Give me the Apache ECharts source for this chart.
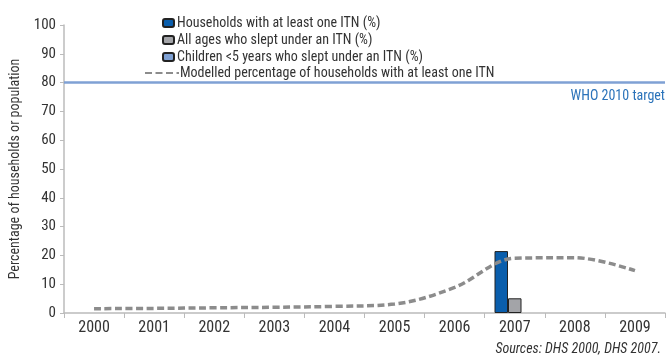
<!doctype html>
<html lang="en">
  <head>
    <meta charset="UTF-8" />
    <title>ITN coverage</title>
    <style>
      html,
      body {
        width: 100%;
        height: 100%;
        margin: 0;
        padding: 0;
        background: #fff;
      }
      #Echart {
        width: 667px;
        height: 360px;
      }
    </style>
  </head>
  <body>
    <div id="Echart"></div>
    <script src="https://cdn.jsdelivr.net/npm/echarts@6/dist/echarts.min.js"></script>
    <script type="text/javascript">
      const years = ['2000', '2001', '2002', '2003', '2004', '2005', '2006', '2007', '2008', '2009']
      const householdsItn = [null, null, null, null, null, null, null, 21.5, null, null]
      const allAgesItn = [null, null, null, null, null, null, null, 5.1, null, null]
      const childrenItn = [null, null, null, null, null, null, null, null, null, null]
      const modelled = [1.5, 1.6, 1.8, 2, 2.3, 3.1, 8.9, 19, 19.2, 14.7]
      const targetValue = 80

      const font = "'Roboto Condensed', 'DejaVu Sans Condensed', sans-serif"
      const names = [
        'Households with at least one ITN (%)',
        'All ages who slept under an ITN (%)',
        'Children <5 years who slept under an ITN (%)',
        'Modelled percentage of households with at least one ITN',
      ]

      const chart = echarts.init(document.getElementById('Echart'))
      const option = {
        animation: false,
        textStyle: { fontFamily: font },
        legend: [
          {
            orient: 'vertical',
            left: 162,
            top: 16,
            itemWidth: 11,
            itemHeight: 8,
            itemGap: 3,
            padding: 0,
            data: names.slice(0, 3),
            textStyle: { fontFamily: font, fontSize: 14, color: '#333', padding: [0, 0, 0, -2] },
          },
          {
            left: 144,
            top: 66,
            padding: 0,
            itemWidth: 34,
            itemHeight: 8,
            itemStyle: { opacity: 0 },
            data: [names[3]],
            textStyle: { fontFamily: font, fontSize: 14, color: '#333', padding: [0, 0, 0, -4] },
          },
        ],
        grid: { left: 63, right: 2, top: 25, bottom: 47 },
        xAxis: {
          type: 'category',
          data: years,
          axisLine: { lineStyle: { color: '#bbb', width: 1.5 } },
          axisTick: { show: true, length: 5, lineStyle: { color: '#bbb' } },
          axisLabel: { fontFamily: font, fontSize: 16, color: '#333', margin: 7 },
        },
        yAxis: {
          type: 'value',
          min: 0,
          max: 100,
          interval: 10,
          name: 'Percentage of households or population',
          nameLocation: 'middle',
          nameGap: 42,
          nameTextStyle: { fontFamily: font, fontSize: 14, color: '#333' },
          axisLine: { show: true, lineStyle: { color: '#bbb', width: 1.5 } },
          axisTick: { show: true, length: 4, lineStyle: { color: '#bbb' } },
          axisLabel: { fontFamily: font, fontSize: 15, color: '#333', margin: 8 },
          splitLine: { show: false },
        },
        series: [
          {
            name: names[0],
            type: 'bar',
            data: householdsItn,
            barWidth: 13.5,
            barGap: '0%',
            itemStyle: { color: '#0a5eac', borderColor: '#222', borderWidth: 1 },
            markLine: {
              silent: true,
              symbol: 'none',
              lineStyle: { color: '#7fa1d4', width: 2.5, type: 'solid' },
              label: {
                position: 'insideEndBottom',
                formatter: 'WHO 2010 target',
                color: '#2b73ba',
                fontFamily: font,
                fontSize: 14,
                distance: [0, 7],
              },
              data: [{ yAxis: targetValue }],
            },
          },
          {
            name: names[1],
            type: 'bar',
            data: allAgesItn,
            barWidth: 13.5,
            itemStyle: { color: '#a3a4a8', borderColor: '#222', borderWidth: 1 },
          },
          {
            name: names[2],
            type: 'bar',
            data: childrenItn,
            barWidth: 13.5,
            itemStyle: { color: '#7ea0d3', borderColor: '#222', borderWidth: 1 },
          },
          {
            name: names[3],
            type: 'line',
            data: modelled,
            smooth: 0.35,
            showSymbol: false,
            symbol: 'none',
            itemStyle: { color: '#8c8c8c' },
            lineStyle: { color: '#8c8c8c', width: 3.5, type: [7, 3.5] },
          },
        ],
        graphic: [
          {
            type: 'text',
            right: 6,
            top: 342,
            style: {
              text: 'Sources: DHS 2000, DHS 2007.',
              fontFamily: font,
              fontStyle: 'italic',
              fontSize: 14,
              fill: '#333',
            },
          },
        ],
      }
      chart.setOption(option)
    </script>
  </body>
</html>
